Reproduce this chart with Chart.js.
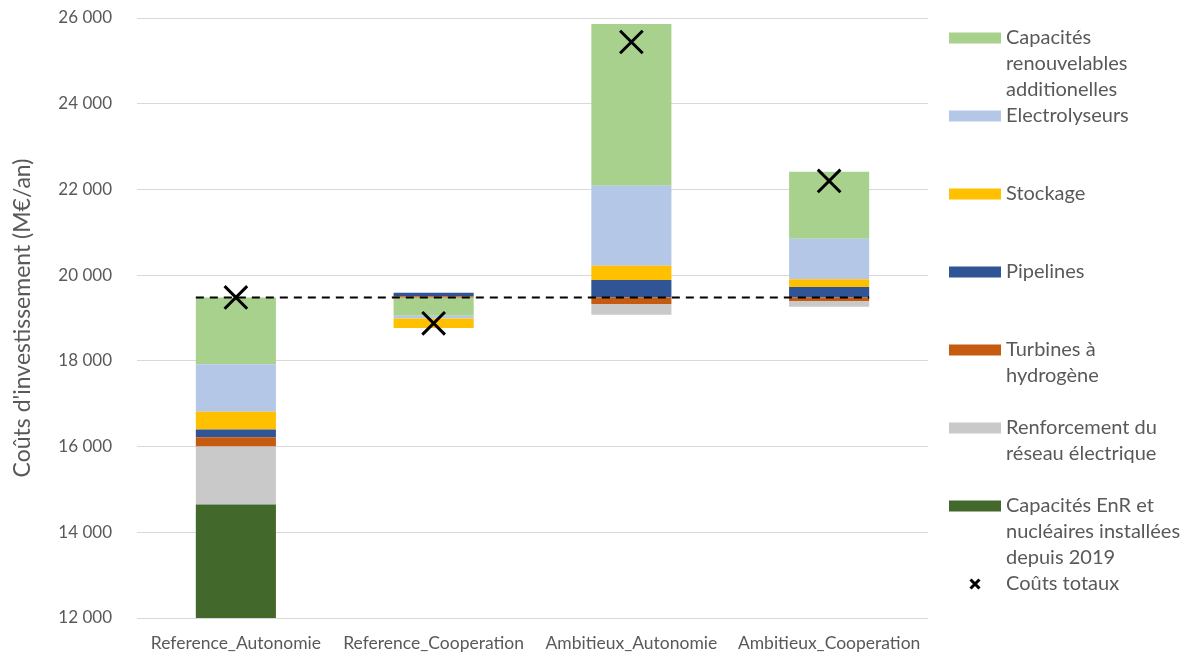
<!DOCTYPE html>
<html>
<head>
<meta charset="utf-8">
<script src="https://cdn.jsdelivr.net/npm/chart.js@4.4.1/dist/chart.umd.min.js"></script>
<style>
  html, body { margin: 0; padding: 0; background: #ffffff; }
  #wrap { width: 1188px; height: 655px; position: relative; }
</style>
</head>
<body>
<div id="wrap"><canvas id="c" width="1188" height="655"></canvas></div>
<script>
// ---- Data ----
const categories = ['Reference_Autonomie', 'Reference_Cooperation', 'Ambitieux_Autonomie', 'Ambitieux_Cooperation'];
// first category: absolute values; the others: differences versus the reference
const enrInstallees   = [14650, 0, 0, 0];
const reseau          = [1350, 0, -249, -133];
const turbines        = [215, 30, -153, -83];
const pipelines       = [185, 80, 407, 244];
const stockage        = [415, -225, 334, 179];
const electrolyseurs  = [1105, -65, 1866, 948];
const renouvelables   = [1560, -425, 3773, 1563];
const coutsTotaux     = [19480, 18877, 25440, 22197];
const yMin = 12000, yMax = 26000, yStep = 2000;

const seriesNames = [
  'Capacités EnR et nucléaires installées depuis 2019',
  'Renforcement du réseau électrique',
  'Turbines à hydrogène',
  'Pipelines',
  'Stockage',
  'Electrolyseurs',
  'Capacités renouvelables additionelles'
];
const seriesValues = [enrInstallees, reseau, turbines, pipelines, stockage, electrolyseurs, renouvelables];
const seriesColors = ['#43682B', '#C9C9C9', '#C55A11', '#2F5597', '#FFC000', '#B4C7E7', '#A9D18E'];

// ---- Build floating ranges (waterfall) ----
const refTotal = seriesValues.reduce((s, arr) => s + arr[0], 0);
const ranges = seriesValues.map(() => categories.map(() => null));
categories.forEach((c, ci) => {
  if (ci === 0) {
    let cum = 0;
    seriesValues.forEach((arr, si) => {
      const v = arr[ci];
      if (v) { ranges[si][ci] = [cum, cum + v]; cum += v; }
    });
  } else {
    let up = refTotal;
    seriesValues.forEach((arr, si) => {
      const v = arr[ci];
      if (v > 0) { ranges[si][ci] = [up, up + v]; up += v; }
    });
    let down = refTotal;
    for (let si = seriesValues.length - 1; si >= 0; si--) {
      const v = seriesValues[si][ci];
      if (v < 0) { ranges[si][ci] = [down + v, down]; down += v; }
    }
  }
});

const datasets = seriesValues.map((arr, si) => ({
  type: 'bar',
  label: seriesNames[si],
  data: ranges[si],
  backgroundColor: seriesColors[si],
  borderWidth: 0,
  barPercentage: 0.405,
  categoryPercentage: 1.0,
  order: 1
}));
datasets.push({
  type: 'line',
  label: 'Coûts totaux',
  data: coutsTotaux,
  showLine: false,
  pointStyle: 'crossRot',
  pointRadius: 16,
  pointHoverRadius: 16,
  pointBorderWidth: 3,
  borderColor: '#000000',
  backgroundColor: '#000000',
  order: 0
});

const FONT = 'Lato, "Open Sans", "DejaVu Sans", sans-serif';
const TEXT = '#595959';

// Reference dashed line
const refLinePlugin = {
  id: 'refLine',
  beforeDatasetDraw(chart, args) {
    if (args.meta.type !== 'line') return;
    const y = chart.scales.y.getPixelForValue(refTotal);
    const firstMeta = chart.getDatasetMeta(0);
    const lastMeta = chart.getDatasetMeta(seriesValues.length - 1);
    const e0 = firstMeta.data[0];
    const eN = lastMeta.data[categories.length - 1];
    const x0 = e0.x - e0.width / 2;
    const x1 = eN.x + eN.width / 2;
    const ctx = chart.ctx;
    ctx.save();
    ctx.strokeStyle = '#000000';
    ctx.lineWidth = 2;
    ctx.setLineDash([8, 6]);
    ctx.beginPath();
    ctx.moveTo(x0, y);
    ctx.lineTo(x1, y);
    ctx.stroke();
    ctx.restore();
  }
};

// Custom legend (Excel-like, fixed slots)
const legendItems = [
  { lines: ['Capacités', 'renouvelables', 'additionelles'], color: '#A9D18E' },
  { lines: ['Electrolyseurs'], color: '#B4C7E7' },
  { lines: ['Stockage'], color: '#FFC000' },
  { lines: ['Pipelines'], color: '#2F5597' },
  { lines: ['Turbines à', 'hydrogène'], color: '#C55A11' },
  { lines: ['Renforcement du', 'réseau électrique'], color: '#C9C9C9' },
  { lines: ['Capacités EnR et', 'nucléaires installées', 'depuis 2019'], color: '#43682B' },
  { lines: ['Coûts totaux'], marker: true }
];
const legendPlugin = {
  id: 'customLegend',
  afterDraw(chart) {
    const ctx = chart.ctx;
    ctx.save();
    ctx.font = '20px ' + FONT;
    ctx.fillStyle = TEXT;
    ctx.textBaseline = 'middle';
    ctx.textAlign = 'left';
    const x0 = 949, sw = 52, sh = 11, tx = 1006, top = 38, slot = 78, lh = 26;
    legendItems.forEach((it, i) => {
      const y = top + slot * i;
      if (it.marker) {
        ctx.save();
        ctx.strokeStyle = '#000';
        ctx.lineWidth = 3;
        const cx = 975, r = 4.5;
        ctx.beginPath();
        ctx.moveTo(cx - r, y - r); ctx.lineTo(cx + r, y + r);
        ctx.moveTo(cx + r, y - r); ctx.lineTo(cx - r, y + r);
        ctx.stroke();
        ctx.restore();
      } else {
        ctx.fillStyle = it.color;
        ctx.fillRect(x0, y - sh / 2, sw, sh);
      }
      ctx.fillStyle = TEXT;
      it.lines.forEach((t, li) => ctx.fillText(t, tx, y + li * lh));
    });
    ctx.restore();
  }
};

new Chart(document.getElementById('c'), {
  data: { labels: categories, datasets },
  options: {
    responsive: false,
    animation: false,
    devicePixelRatio: 1,
    layout: { autoPadding: false, padding: { top: 18, right: 260, bottom: 0, left: 0 } },
    plugins: { legend: { display: false }, tooltip: { enabled: false } },
    scales: {
      x: {
        stacked: true,
        grid: { display: false },
        border: { display: false },
        ticks: { color: TEXT, font: { family: FONT, size: 17.5 }, padding: 7, maxRotation: 0, autoSkip: false },
        afterFit(scale) { scale.height = 37; }
      },
      y: {
        stacked: false,
        min: yMin,
        max: yMax,
        grid: { color: '#D9D9D9', lineWidth: 1, drawTicks: false },
        border: { display: false },
        ticks: {
          stepSize: yStep,
          color: TEXT,
          padding: 25,
          font: { family: FONT, size: 17 },
          callback: (v) => String(v).replace(/\B(?=(\d{3})+(?!\d))/g, ' ')
        },
        title: { display: true, text: "Coûts d'investissement (M€/an)", color: TEXT, font: { family: FONT, size: 23 }, padding: { top: 9, bottom: 0 } },
        afterFit(scale) { scale.width = 137; scale.paddingTop = 10; scale.paddingBottom = 10; }
      }
    }
  },
  plugins: [refLinePlugin, legendPlugin]
});
</script>
</body>
</html>
